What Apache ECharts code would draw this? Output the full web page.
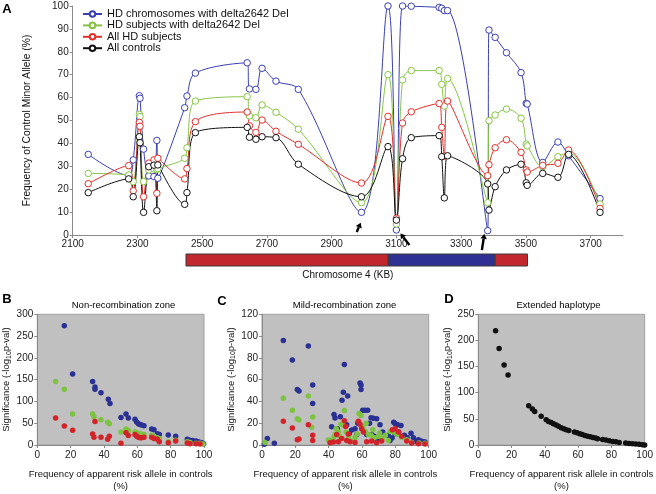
<!DOCTYPE html>
<html><head><meta charset="utf-8">
<script src="https://cdn.jsdelivr.net/npm/echarts@6/dist/echarts.min.js"></script>
<style>html,body{margin:0;padding:0;background:#fff}#c{width:656px;height:494px}</style>
</head><body><div id="c"></div>
<script>
// ---------- Panel A data ----------
const posKb = [2148,2273,2287,2306,2308,2319,2335,2351,2360,2363,2446,2453,2479,2639,2646,2666,2685,2728,2797,2992,3074,3100,3119,3146,3232,3240,3248,3258,3382,3386,3405,3440,3485,3501,3504,3552,3599,3632,3729];
const hdChromDel = [35.2,26,32.8,60.8,59.7,37.5,25.8,25.5,41.3,24.8,55.6,60.7,70.7,75.2,63.8,63.6,72.8,67.2,63.6,9.9,100,2.2,100,99.9,99.4,99,98,98,1.9,89.5,86.3,79.6,70.9,57.5,57.2,31.7,40.6,34.6,15.9];
const hdSubjDel = [26.9,26.2,23.3,52.7,51.7,23.3,28.4,28.8,28.5,29,33.5,38.1,58.5,60.4,52,51.2,56.8,53.6,46.2,14.1,70,4.8,67.7,71.8,71.8,65.8,56.3,68.3,14.1,49.9,52.4,55,51,39.7,38.9,29.8,34.2,35.9,13.5];
const allHD = [22.4,30.3,19.3,49.2,47.5,16.7,31.4,32.8,18.2,33.5,24.5,29,49.5,53.7,47.7,44.8,50.2,45.3,39.6,22.7,51.8,7.3,48.9,53.8,57.4,47,34.4,58.5,25.9,30.7,38.1,41.6,36.1,28.4,27.5,30.4,31.3,37.1,11.6];
const allCtrl = [18.5,24.5,16.7,42.9,40.3,9.9,29.8,30.5,10.6,30.6,13.4,18.5,44.7,47,42.7,41.8,42.9,42.5,30.9,16.7,38.6,6.5,33.3,42.5,43.4,34.2,16.2,34.6,22.3,10.9,21.1,28.4,30.9,22.8,21.7,26.9,25.2,35.2,9.9];
const seriesNames = ['HD chromosomes with delta2642 Del','HD subjects with delta2642 Del','All HD subjects','All controls'];
const xTicksA = {min:2100, max:3800, step:200};
const yTicksA = {min:0, max:100, step:10};
// chromosome zones (kb)
const zoneStart = [2450,3075,3405];
const zoneEnd = [3075,3405,3505];
const zoneType = ['non','mild','non'];
// arrows point at these SNPs (kb)
const arrowKb = [2992,3100,3382];

// ---------- Panel B: Non-recombination zone ----------
const bBlue = [[16.2,274],[21.2,163],[33.2,146],[34.6,133],[34.6,128],[38.2,120],[42.6,105],[43.6,95],[50.2,63],[53.2,71],[54.6,62],[58.6,59],[59.6,53],[60.6,49],[61.6,47],[62.6,46],[64,44],[68.6,37],[70,35],[72,26],[73.2,24],[78.6,23],[83,20],[90,13],[91.6,11],[93.2,10.5],[95.2,9],[96.6,7.5],[98,6],[99,4.5],[99.8,3]];
const bGreen = [[11,146],[16.2,128],[21.2,71],[33.2,71],[34,65],[38.2,58],[42.2,52],[43.2,49],[50.2,30],[53.2,37],[54.6,33],[58.6,30],[59.6,28],[61.6,26],[62.6,24],[64,24],[68.6,22.6],[70,20],[72,16.5],[73.2,15],[78.6,7.5],[83,11],[90,7.5],[91.6,6],[95.2,4],[97.6,3.8],[99.5,2.3]];
const bRed = [[11,62],[16.2,43.5],[21.2,34],[33.2,25.5],[34,18],[34.6,54],[38.2,18],[42.2,13],[43.2,20],[50.2,4],[53.2,28],[54.6,22],[58.6,24],[59.6,20],[60.6,18],[61.6,16.5],[62.6,16.5],[64,18],[68.6,18],[70,15],[72,13],[73.2,7.5],[78.6,5.3],[83,9],[90,4.5],[91.6,3],[95.2,3],[97.6,2.3]];

// ---------- Panel C: Mild-recombination zone ----------
const cBlue = [[1.4,0.6],[3.2,6],[7.4,1.5],[12.8,96],[18.2,78],[21.2,51],[22.2,49.5],[27.8,91],[30.4,55],[30.4,38],[41.8,16.8],[42.2,4.2],[43.2,28],[43.8,24.7],[45.2,15],[47,26],[48,41],[48.8,48.5],[49.4,74],[50.8,18.6],[51.4,45],[52.4,10.5],[53.8,13.8],[55.8,15],[56.8,9.6],[57.5,20],[58.8,57],[59.4,55],[59.4,51],[60.4,32],[61.8,32],[63.4,32],[62.8,9.6],[64.5,20],[65.4,25],[65.8,9.6],[66.8,24.5],[67.5,8],[68.8,24],[68.8,5],[70.8,18.6],[71.5,6],[72.4,12],[75.8,9],[76.8,4.2],[78,6.5],[79,21],[79.8,19.8],[79.8,9.6],[81.4,18.6],[82,12],[83.4,18],[85.4,9],[87,7],[89.4,10.8],[90.8,6.6],[92,3.5],[93.8,4.8],[95.4,3.6],[96.8,3],[97.8,2.7]];
const cGreen = [[1.8,2.4],[12.8,43],[18.2,32],[21.2,24],[22.2,23],[27.8,45],[30.4,25.6],[29.8,16.2],[39.8,4.5],[42.8,6.6],[43.8,9.6],[44.5,15],[45.8,12],[46.5,8],[47.4,19],[48.4,18.6],[49.4,31.6],[50.5,12],[51.8,7.8],[53,4],[55.8,6.6],[57,10],[58.2,29],[59.4,27],[60.4,17],[61.8,12.6],[62.5,20],[63.8,9.6],[65.4,9],[66.5,14],[67.4,6.6],[69.8,8],[70.5,11],[72.2,6],[74,9],[75.8,4.2],[77,12.5],[78.8,12],[80.8,9.6],[83.8,7.2],[86.8,4.8],[89.8,2.4],[94.2,1.8],[97.8,1.5]];
const cRed = [[12.8,21.7],[18.2,15.6],[21.2,4.8],[22.2,5.4],[27.8,18.6],[30.4,9],[30.4,4.2],[40.8,2.1],[42.8,2.7],[44.8,9.6],[45.8,3],[47.8,6],[49.4,22.3],[50.2,17],[50.8,4.2],[51.8,10],[52.8,3],[55.8,2.4],[57.8,21.7],[58.8,19],[59.8,15],[60.8,12],[62.8,3],[65.8,3.6],[68.8,2.1],[71.8,3.6],[78.2,14],[79.8,15],[81.8,12],[83.8,8],[86.8,3.6],[89.8,1.8],[93.8,1.2],[97.8,0.9]];

// ---------- Panel D: Extended haplotype ----------
const dBlack = [[10.4,218.7],[12.5,184.8],[15.5,152.9],[17.9,134.1],[30.3,75.2],[32.5,68.9],[33.9,63.9],[37.8,55.1],[40.8,48.2],[42.2,45.1],[43.8,43.2],[45.2,40.7],[46.8,38.2],[48.2,35.7],[49.8,33.2],[51.4,31.3],[52.8,29.4],[54.4,27.6],[57.8,25.1],[59.4,23.2],[61,21.3],[62.5,20],[64.1,18.2],[65.7,16.9],[67.3,15.7],[68.9,14.4],[70.5,13.2],[71.7,11.9],[74.7,10.7],[76.7,9.4],[78.7,8.1],[80.7,6.9],[82.7,6.3],[84.7,5],[88.6,3.8],[90.6,3.1],[92.6,2.5],[94.6,1.9],[96.6,1.3],[98.6,0.6],[100,0.2]];

const xTicksPanel = {min:0, max:100, step:20};
const yMaxB = 300, yStepB = 50;
const yMaxC = 120, yStepC = 20;
const yMaxD = 250, yStepD = 50;

// ---------- styling ----------
const FONT = 'Liberation Sans, Arial, sans-serif';
const lineColors = ['#3a3fb0','#86c443','#e0302c','#111111'];
const zoneColors = {non:'#c1272d', mild:'#2e3192'};
const dotColors = {blue:'#2a3192', green:'#7dc242', red:'#d2232a', black:'#111111'};
const axisGray = '#8a8a8a';
const lblColor = '#222';
const plain = v => String(v);

const chart = echarts.init(document.getElementById('c'), null, {renderer:'canvas'});

const lineData = [hdChromDel, hdSubjDel, allHD, allCtrl];
const lineSeries = lineData.map((arr, k) => ({
  name: seriesNames[k], type:'line', xAxisIndex:0, yAxisIndex:0,
  data: posKb.map((p,i) => [p, arr[i]]),
  smooth: 0.35, symbol:'circle', symbolSize:6.5,
  lineStyle:{color:lineColors[k], width:1},
  itemStyle:{color:'#ffffff', borderColor:lineColors[k], borderWidth:1},
  emphasis:{disabled:true}, animation:false
}));

function panelX(gi){
  return {gridIndex:gi, type:'value', min:xTicksPanel.min, max:xTicksPanel.max, interval:xTicksPanel.step,
    axisLine:{show:true, onZero:false, lineStyle:{color:axisGray}},
    axisTick:{show:true, length:3, lineStyle:{color:axisGray}},
    axisLabel:{fontSize:10, color:lblColor, margin:5, fontFamily:FONT, formatter:plain},
    splitLine:{show:false},
    name:'Frequency of apparent risk allele in controls\n(%)', nameLocation:'middle', nameGap:23,
    nameTextStyle:{fontSize:9.5, lineHeight:12.5, color:'#111', fontFamily:FONT}};
}
function panelY(gi, max, step, gap){
  return {gridIndex:gi, type:'value', min:0, max:max, interval:step,
    axisLine:{show:true, lineStyle:{color:axisGray}},
    axisTick:{show:true, length:3, lineStyle:{color:axisGray}},
    axisLabel:{fontSize:10, color:lblColor, margin:4, fontFamily:FONT, formatter:plain},
    splitLine:{show:false},
    name:'{n|Significance (-log}{s|10}{n|p-val)}', nameLocation:'middle', nameGap:gap,
    nameTextStyle:{fontFamily:FONT, rich:{
      n:{fontSize:9.5, color:'#111', lineHeight:12, verticalAlign:'middle', fontFamily:FONT},
      s:{fontSize:7, color:'#111', lineHeight:12, verticalAlign:'bottom', fontFamily:FONT}}}};
}
function dots(gi, data, color){
  return {type:'scatter', xAxisIndex:gi, yAxisIndex:gi, data:data, symbol:'circle', symbolSize:5.5,
    itemStyle:{color:color, opacity:1}, emphasis:{disabled:true}, animation:false};
}

const option = {
  animation:false,
  textStyle:{fontFamily:FONT},
  legend:{
    data:seriesNames, orient:'vertical', left:82, top:8.3, padding:0, itemGap:0,
    itemWidth:19, itemHeight:7, selectedMode:false,
    textStyle:{fontSize:11, lineHeight:11.4, color:'#111', fontFamily:FONT}
  },
  grid:[
    {left:72.7, top:6, width:550.3, height:229, containLabel:false},
    {left:72.7, top:254, width:550.3, height:12},
    {left:37.3, top:314.3, width:166.7, height:133, show:true, backgroundColor:'#c0c0c0', borderColor:'#a0a0a0', borderWidth:1},
    {left:262, top:314.3, width:166.7, height:133, show:true, backgroundColor:'#c0c0c0', borderColor:'#a0a0a0', borderWidth:1},
    {left:478.3, top:314.3, width:167.4, height:133, show:true, backgroundColor:'#c0c0c0', borderColor:'#a0a0a0', borderWidth:1}
  ],
  xAxis:[
    {gridIndex:0, type:'value', min:xTicksA.min, max:xTicksA.max, interval:xTicksA.step,
      axisLine:{show:true, onZero:false, lineStyle:{color:axisGray}},
      axisTick:{show:true, length:3, lineStyle:{color:axisGray}},
      axisLabel:{fontSize:10, color:lblColor, margin:4, showMaxLabel:false, fontFamily:FONT, formatter:plain},
      splitLine:{show:false}},
    {gridIndex:1, type:'value', min:xTicksA.min, max:xTicksA.max,
      axisLine:{show:false}, axisTick:{show:false}, axisLabel:{show:false}, splitLine:{show:false},
      name:'Chromosome 4 (KB)', nameLocation:'middle', nameGap:4,
      nameTextStyle:{fontSize:10, color:'#111', fontFamily:FONT, verticalAlign:'top'}},
    panelX(2), panelX(3), panelX(4)
  ],
  yAxis:[
    {gridIndex:0, type:'value', min:yTicksA.min, max:yTicksA.max, interval:yTicksA.step,
      axisLine:{show:true, lineStyle:{color:axisGray}},
      axisTick:{show:true, length:3, lineStyle:{color:axisGray}},
      axisLabel:{fontSize:10, color:lblColor, margin:4, fontFamily:FONT, formatter:plain},
      splitLine:{show:false},
      name:'Frequency of Control Minor Allele (%)', nameLocation:'middle', nameGap:41,
      nameTextStyle:{fontSize:10.3, color:'#111', fontFamily:FONT}},
    {gridIndex:1, type:'value', min:0, max:1, show:false},
    panelY(2, yMaxB, yStepB, 25), panelY(3, yMaxC, yStepC, 25), panelY(4, yMaxD, yStepD, 24)
  ],
  series:[
    ...lineSeries,
    {type:'custom', xAxisIndex:1, yAxisIndex:1, animation:false,
      data: zoneStart.map((s,i) => [s, zoneEnd[i]]),
      renderItem:function(params, api){
        const p0 = api.coord([api.value(0), 1]);
        const p1 = api.coord([api.value(1), 0]);
        return {type:'rect', shape:{x:p0[0], y:p0[1], width:p1[0]-p0[0], height:p1[1]-p0[1]},
          style:{fill:zoneColors[zoneType[params.dataIndex]], stroke:'#3a3a3a', lineWidth:1}};
      }},
    dots(2, bBlue, dotColors.blue), dots(2, bGreen, dotColors.green), dots(2, bRed, dotColors.red),
    dots(3, cBlue, dotColors.blue), dots(3, cGreen, dotColors.green), dots(3, cRed, dotColors.red),
    dots(4, dBlack, dotColors.black)
  ]
};
chart.setOption(option);

// ---------- annotations (text + arrows) ----------
function txt(x, y, s, size, bold, align){
  return {type:'text', x:x, y:y, silent:true, z:100,
    style:{text:s, fontSize:size, fontWeight:bold?'bold':'normal', fill:'#000', fontFamily:FONT,
      textAlign:align||'center', textVerticalAlign:'middle'}};
}
const g = [
  txt(7, 9, 'A', 13, true), txt(7, 299, 'B', 13, true), txt(222, 301, 'C', 13, true), txt(449, 299, 'D', 13, true),
  txt(123.5, 305, 'Non-recombination zone', 9.5, false),
  txt(344.5, 305, 'Mild-recombination zone', 9.5, false),
  txt(558.5, 305, 'Extended haplotype', 9.5, false)
];
const arrowOffsets = [[[-0.7,10.4],[-4.7,19.6]], [[4,3.5],[13,15]], [[-3.3,3.2],[-5.8,19.5]]];
arrowKb.forEach((kb, i) => {
  const idx = posKb.indexOf(kb);
  const p = chart.convertToPixel({xAxisIndex:0, yAxisIndex:0}, [kb, hdChromDel[idx]]);
  const T = [p[0]+arrowOffsets[i][0][0], p[1]+arrowOffsets[i][0][1]];
  const S = [p[0]+arrowOffsets[i][1][0], p[1]+arrowOffsets[i][1][1]];
  const dx = T[0]-S[0], dy = T[1]-S[1], L = Math.hypot(dx,dy);
  const ux = dx/L, uy = dy/L, nx = -uy, ny = ux;
  const B = [T[0]-ux*5, T[1]-uy*5];
  g.push({type:'line', silent:true, z:100, shape:{x1:S[0], y1:S[1], x2:B[0], y2:B[1]}, style:{stroke:'#000', lineWidth:2.4}});
  g.push({type:'polygon', silent:true, z:100, shape:{points:[T, [B[0]+nx*3.2, B[1]+ny*3.2], [B[0]-nx*3.2, B[1]-ny*3.2]]}, style:{fill:'#000'}});
});
chart.setOption({graphic:g});
</script></body></html>
